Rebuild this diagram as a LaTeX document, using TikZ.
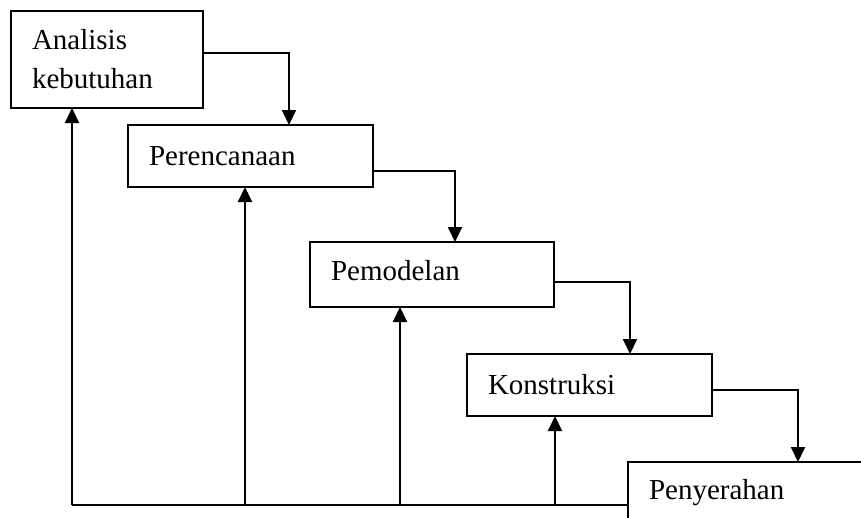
\documentclass[tikz,border=0pt]{standalone}
\usepackage{fontspec}
\setmainfont{Liberation Serif}
\usetikzlibrary{arrows.meta}
\begin{document}
\begin{tikzpicture}[x=1pt,y=-1pt,
  box/.style={draw, line width=2pt, outer sep=0pt, inner xsep=21pt, inner ysep=0pt,
    align=left, anchor=north west, font=\fontsize{29}{39}\selectfont},
  conn/.style={line width=2pt},
  arr/.style={line width=2pt, -{Triangle[length=15pt,width=14pt]}}]
\useasboundingbox (0,0) rectangle (861,517);
\clip (0,0) rectangle (861,517);
\node[box, text width=150pt, minimum height=97pt] (a) at (11,11) {Analisis\\kebutuhan};
\node[box, text width=203pt, minimum height=62pt] (b) at (128,125) {Perencanaan};
\node[box, text width=202pt, minimum height=65pt, text depth=8pt] (c) at (310,242) {Pemodelan};
\node[box, text width=203pt, minimum height=62pt] (d) at (467,354) {Konstruksi};
\node[box, text width=210pt, minimum height=62pt] (e) at (628,462) {Penyerahan};
% forward connectors
\coordinate (k1) at (289,53);
\coordinate (k2) at (455,171);
\coordinate (k3) at (630,282);
\coordinate (k4) at (798,390);
\draw[arr] (a.east |- k1) -| (k1 |- b.north);
\draw[arr] (b.east |- k2) -| (k2 |- c.north);
\draw[arr] (c.east |- k3) -| (k3 |- d.north);
\draw[arr] (d.east |- k4) -| (k4 |- e.north);
% feedback
\coordinate (f1) at (72,505);
\coordinate (f2) at (245,505);
\coordinate (f3) at (400,505);
\coordinate (f4) at (555,505);
\draw[conn] (e.west |- f1) -- (f1);
\draw[arr] (f1) -- (f1 |- a.south);
\draw[arr] (f2) -- (f2 |- b.south);
\draw[arr] (f3) -- (f3 |- c.south);
\draw[arr] (f4) -- (f4 |- d.south);
\end{tikzpicture}
\end{document}
